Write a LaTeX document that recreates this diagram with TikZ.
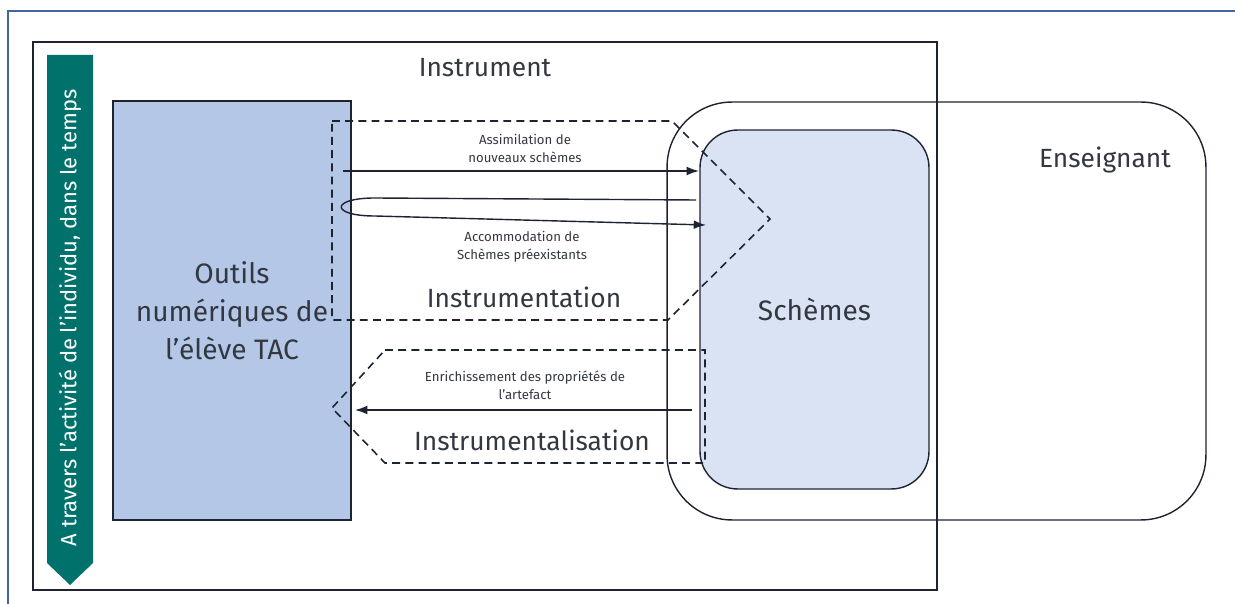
\documentclass[tikz,border=0pt]{standalone}
\usepackage{fontspec}
\setmainfont{Fira Sans}
\usetikzlibrary{arrows.meta}

\definecolor{outilsblue}{HTML}{B4C7E7}
\definecolor{schemesblue}{HTML}{DAE3F3}
\definecolor{bannerteal}{HTML}{00716B}
\definecolor{frameblue}{HTML}{41659E}
\definecolor{inkgray}{HTML}{1E2330}
\definecolor{textgray}{HTML}{333840}

\tikzset{
	box/.style={shape=rectangle,draw=inkgray,line width=0.8pt,inner sep=0pt},
	flow/.style={-{Latex[length=7pt,width=5pt]},draw=inkgray,line width=0.8pt},
	dashline/.style={draw=inkgray,line width=0.9pt,dash pattern=on 4.5pt off 3pt},
	bigtext/.style={text=textgray,font=\fontsize{15}{18}\selectfont},
	smalltext/.style={text=textgray,align=center,font=\fontsize{7.5}{10.2}\selectfont}
}

\begin{document}
\begin{tikzpicture}[x=0.02cm,y=-0.02cm]
		\useasboundingbox (0,0) rectangle (1235,604);
		\draw [frameblue,line width=1.2pt] (8,604) -- (8,11) -- (1235,11);
		\node [box] (instrument) at (485,316) [minimum width=18.08cm,minimum height=10.96cm] {};
		\node [bigtext] (instrumentlabel) at (485,68) {Instrument};
		\fill [bannerteal] (47,55) -- (93,55) -- (93,563) -- (70,585) -- (47,563) -- cycle;
		\node [rotate=90,text=white,font=\fontsize{12.5}{15}\selectfont] (temps) at (70,318) {A travers l'activité de l'individu, dans le temps};
		\node [box,fill=outilsblue,align=center,text=textgray,font=\fontsize{16}{21.6}\selectfont] (outils) at (232,310.5) [minimum width=4.76cm,minimum height=8.38cm] {Outils\\numériques de\\l'élève TAC};
		\node [box,rounded corners=1.3cm] (enseignant) at (936.5,311) [minimum width=10.78cm,minimum height=8.36cm] {};
		\node [bigtext] (enseignantlabel) at (1105,160) {Enseignant};
		\node [box,rounded corners=0.75cm,fill=schemesblue,text=textgray,font=\fontsize{16}{18}\selectfont] (schemes) at (814.5,309.5) [minimum width=4.58cm,minimum height=7.18cm] {Schèmes};
		\draw [dashline] (332,121) -- (672,121) -- (770,219) -- (668,320) -- (332,320) -- cycle;
		\draw [dashline] (385,350) -- (705,350) -- (705,463) -- (385,463) -- (332,408) -- cycle;
		\coordinate (assimA) at (343,171);
		\coordinate (assimB) at (699,171);
		\coordinate (accomA) at (696,200);
		\coordinate (accomB) at (706,225);
		\coordinate (enrichA) at (692,410);
		\coordinate (enrichB) at (355,410);
		\draw [flow] (assimA) -- (assimB);
		\draw [flow] (accomA) -- (375,198) .. controls (330,198) and (330,216) .. (375,216) -- (accomB);
		\draw [flow] (enrichA) -- (enrichB);
		\node [smalltext] (assimlabel) at (525,148) {Assimilation de\\nouveaux schèmes};
		\node [smalltext] (accomlabel) at (522,247) {Accommodation de\\Schèmes préexistants};
		\node [smalltext] (enrichlabel) at (525,385) {Enrichissement des propriétés de\\l'artefact};
		\node [bigtext] (instrumentation) at (524,297) {Instrumentation};
		\node [bigtext] (instrumentalisation) at (532,440) {Instrumentalisation};
	\end{tikzpicture}
\end{document}
